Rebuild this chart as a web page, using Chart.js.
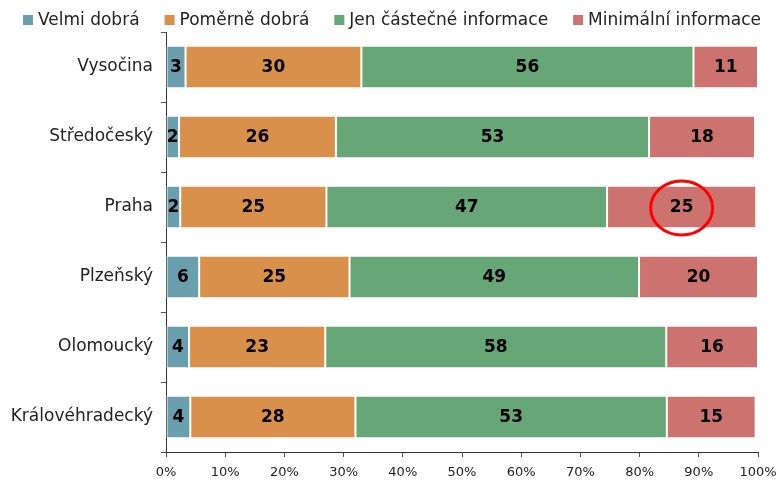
<!DOCTYPE html>
<html>
<head>
<meta charset="utf-8">
<script src="https://cdn.jsdelivr.net/npm/chart.js@4/dist/chart.umd.min.js"></script>
<style>
  html, body { margin: 0; padding: 0; background: #fff; }
  #wrap { width: 776px; height: 480px; }
</style>
</head>
<body>
<div id="wrap"><canvas id="myChart"></canvas></div>
<script>
// regions (top to bottom)
const regions = ['Vysočina', 'Středočeský', 'Praha', 'Plzeňský', 'Olomoucký', 'Královéhradecký']
const seriesNames = ['Velmi dobrá', 'Poměrně dobrá', 'Jen částečné informace', 'Minimální informace']

// shares in %
const velmi = [3.3, 2.2, 2.4, 5.6, 3.9, 4.1]
const pomerne = [29.7, 26.5, 24.7, 25.4, 23.0, 27.9]
const castecne = [56.1, 52.9, 47.4, 48.9, 57.6, 52.6]
const minimalni = [10.9, 17.9, 25.2, 20.1, 15.5, 15.0]

// labels printed on the bars
const velmiLbl = ['3', '2', '2', '6', '4', '4']
const pomerneLbl = ['30', '26', '25', '25', '23', '28']
const castecneLbl = ['56', '53', '47', '49', '58', '53']
const minimalniLbl = ['11', '18', '25', '20', '16', '15']

const colors = ['#6a9fae', '#d9904b', '#67a676', '#cd736f']

const FONT = "'DejaVu Sans', Verdana, sans-serif"

// bold numbers in the middle of each segment
const barLabels = {
  id: 'barLabels',
  afterDatasetsDraw(chart) {
    const ctx = chart.ctx
    const all = [velmiLbl, pomerneLbl, castecneLbl, minimalniLbl]
    ctx.save()
    ctx.font = 'bold 17px ' + FONT
    ctx.fillStyle = '#000'
    ctx.textAlign = 'center'
    ctx.textBaseline = 'middle'
    chart.data.datasets.forEach((ds, i) => {
      chart.getDatasetMeta(i).data.forEach((bar, j) => {
        const p = bar.getProps(['x', 'base', 'y'], true)
        ctx.fillText(all[i][j], (p.x + p.base) / 2, p.y + 1)
      })
    })
    ctx.restore()
  }
}

// legend drawn by hand: small square, short gap, wide gap between items
const topLegend = {
  id: 'topLegend',
  afterDraw(chart) {
    const ctx = chart.ctx
    ctx.save()
    ctx.font = '17px ' + FONT
    ctx.textBaseline = 'middle'
    const box = 10, gap = 5, space = 25, y = 21
    let x = 23
    chart.data.datasets.forEach(ds => {
      const w = ctx.measureText(ds.label).width
      ctx.fillStyle = ds.backgroundColor
      ctx.fillRect(x, y - box / 2 - 1, box, box)
      ctx.fillStyle = '#222'
      ctx.fillText(ds.label, x + box + gap, y)
      x += box + gap + w + space
    })
    ctx.restore()
  }
}

// red circle round the Praha "Minimální informace" value
const highlight = {
  id: 'highlight',
  afterDraw(chart) {
    const bar = chart.getDatasetMeta(3).data[regions.indexOf('Praha')]
    const p = bar.getProps(['x', 'base', 'y'], true)
    const ctx = chart.ctx
    ctx.save()
    ctx.strokeStyle = '#ff0000'
    ctx.lineWidth = 3
    ctx.beginPath()
    ctx.ellipse((p.x + p.base) / 2, p.y + 1, 31, 27, 0, 0, Math.PI * 2)
    ctx.stroke()
    ctx.restore()
  }
}

const ctx = document.getElementById('myChart').getContext('2d')
const myChart = new Chart(ctx, {
  type: 'bar',
  data: {
    labels: regions,
    datasets: [velmi, pomerne, castecne, minimalni].map((d, i) => ({
      label: seriesNames[i],
      data: d,
      backgroundColor: colors[i],
      borderColor: '#ffffff',
      borderWidth: 1,
      borderSkipped: false,
      barPercentage: 0.61,
      categoryPercentage: 1
    }))
  },
  options: {
    indexAxis: 'y',
    responsive: true,
    maintainAspectRatio: false,
    animation: false,
    layout: { padding: { left: 0, right: 0, top: 32, bottom: 0 } },
    plugins: {
      tooltip: { enabled: false },
      legend: { display: false }
    },
    scales: {
      x: {
        stacked: true,
        min: 0,
        max: 100,
        ticks: {
          stepSize: 10,
          callback: v => v + '%',
          font: { family: FONT, size: 13 },
          color: '#222',
          padding: 8,
          maxRotation: 0
        },
        grid: { drawOnChartArea: false, tickLength: 5, color: '#555' },
        border: { color: '#333', width: 1 },
        afterFit: s => { s.height = 28; s.paddingRight = 18 }
      },
      y: {
        stacked: true,
        ticks: {
          font: { family: FONT, size: 17 },
          color: '#222',
          padding: 8
        },
        grid: { drawOnChartArea: false, tickLength: 5, color: '#555', offset: true },
        border: { color: '#333', width: 1 },
        afterFit: s => { s.width = 166 }
      }
    }
  },
  plugins: [barLabels, topLegend, highlight]
})
</script>
</body>
</html>
